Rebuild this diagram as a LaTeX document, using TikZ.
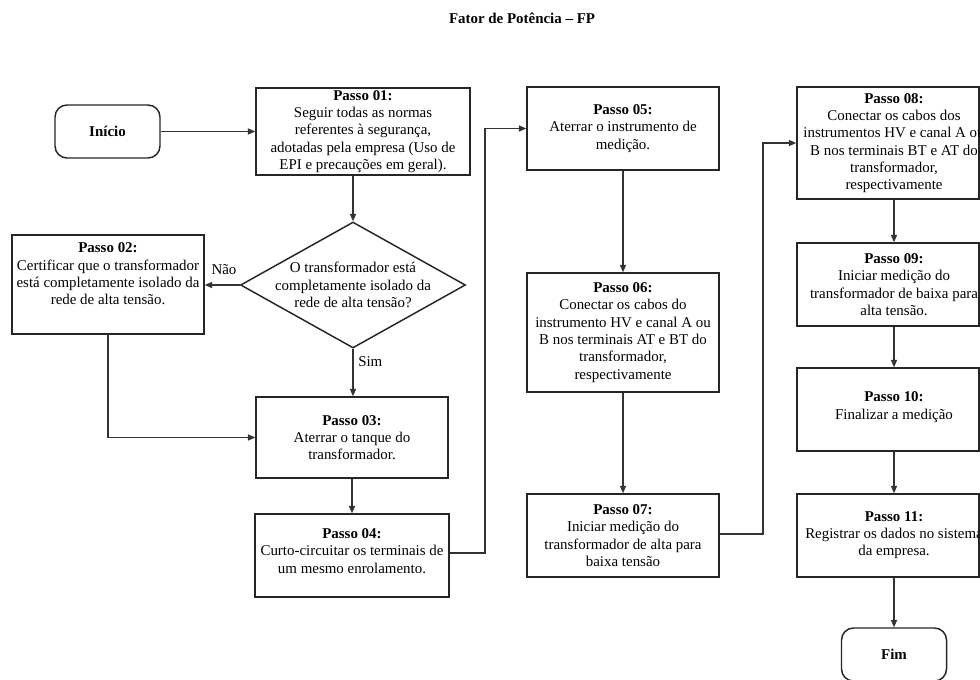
\documentclass[tikz,border=0pt]{standalone}
\usepackage{fontspec}
\setmainfont{Liberation Serif}
\usetikzlibrary{arrows.meta,shapes.geometric}
\tikzset{
  stepbox/.style={draw=black!85, line width=1.1pt, rectangle, align=center, inner sep=1pt,
    font=\fontsize{11.2pt}{13pt}\selectfont},
  termbox/.style={draw=black!85, line width=1.1pt, rectangle, rounded corners=9pt, align=center,
    font=\fontsize{11.2pt}{13pt}\selectfont\bfseries},
  decbox/.style={draw=black!85, line width=1.1pt, diamond, inner sep=0pt},
  txt/.style={align=center, inner sep=0pt, font=\fontsize{11.2pt}{13pt}\selectfont},
  arr/.style={draw=black!80, line width=1pt, -{Triangle[length=5.5pt,width=4.5pt]}}
}
\begin{document}
\begin{tikzpicture}[x=0.75pt,y=-0.75pt]
\useasboundingbox (0,0) rectangle (980,679);
\fill[white] (0,0) rectangle (980,679);
\clip (0,0) rectangle (980,679);

\node[txt, font=\fontsize{11.2pt}{13pt}\selectfont\bfseries] (title) at (522,18) {Fator de Potência – FP};

\node[termbox, minimum width=78.75pt, minimum height=39.75pt] (init) at (107.5,131.5) {Início};

\node[stepbox, minimum width=160.5pt, minimum height=65.25pt] (p01) at (363,131.5)
  {\textbf{Passo 01:}\\Seguir todas as normas\\referentes à segurança,\\adotadas pela empresa (Uso de\\EPI e precauções em geral).};

\node[decbox, minimum width=168.75pt, minimum height=94.5pt] (dia) at (353,285) {};
\node[txt] (diat) at (353,285) {O transformador está\\completamente isolado da\\rede de alta tensão?};

\node[stepbox, minimum width=144pt, minimum height=74.25pt] (p02) at (108,284.5) {};
\node[txt] (p02t) at (108,274)
  {\textbf{Passo 02:}\\Certificar que o transformador\\está completamente isolado da\\rede de alta tensão.};

\node[stepbox, minimum width=144pt, minimum height=60.75pt] (p03) at (352,437.5)
  {\textbf{Passo 03:}\\Aterrar o tanque do\\transformador.};

\node[stepbox, minimum width=145.5pt, minimum height=62.25pt] (p04) at (352,555.5) {};
\node[txt] (p04t) at (352,551)
  {\textbf{Passo 04:}\\Curto-circuitar os terminais de\\um mesmo enrolamento.};

\node[stepbox, minimum width=144pt, minimum height=62.25pt] (p05) at (623,128.5)
  {\textbf{Passo 05:}\\Aterrar o instrumento de\\medição.};

\node[stepbox, minimum width=144pt, minimum height=89.25pt] (p06) at (623,332.5)
  {\textbf{Passo 06:}\\Conectar os cabos do\\instrumento HV e canal A ou\\B nos terminais AT e BT do\\transformador,\\respectivamente};

\node[stepbox, minimum width=144pt, minimum height=62.25pt] (p07) at (623,535.5)
  {\textbf{Passo 07:}\\Iniciar medição do\\transformador de alta para\\baixa tensão};

\node[stepbox, minimum width=136.5pt, minimum height=84pt] (p08) at (888,143) {};
\node[txt] (p08t) at (894,143)
  {\textbf{Passo 08:}\\Conectar os cabos dos\\instrumentos HV e canal A ou\\B nos terminais BT e AT do\\transformador,\\respectivamente};

\node[stepbox, minimum width=136.5pt, minimum height=62.25pt] (p09) at (888,284.5) {};
\node[txt] (p09t) at (894,284.5)
  {\textbf{Passo 09:}\\Iniciar medição do\\transformador de baixa para\\alta tensão.};

\node[stepbox, minimum width=136.5pt, minimum height=62.25pt] (p10) at (888,409.5) {};
\node[txt] (p10t) at (894,407) {\textbf{Passo 10:}\\Finalizar a medição};

\node[stepbox, minimum width=136.5pt, minimum height=62.25pt] (p11) at (888,535.5) {};
\node[txt] (p11t) at (894,535) {\textbf{Passo 11:}\\Registrar os dados no sistema\\da empresa.};

\node[termbox, minimum width=78.75pt, minimum height=39.75pt] (fim) at (894,654.5) {Fim};

% connectors
\draw[arr] (init.east) -- (p01.west |- init.east);
\draw[arr] (dia.north |- p01.south) -- (dia.north);
\draw[arr] (dia.west) -- (p02.east |- dia.west);
\node[txt] (nao) at (224,270) {Não};
\draw[arr] (dia.south) -- (dia.south |- p03.north);
\node[txt, anchor=west] (sim) at (358,362) {Sim};
\draw[arr] (p02.south) |- (p03.west);
\draw[arr] (p03.south) -- (p04.north);
\coordinate (c1) at (485,553);
\draw[arr] (p04.east |- c1) -- (c1) |- (p05.west);
\draw[arr] (p05.south) -- (p06.north);
\draw[arr] (p06.south) -- (p07.north);
\coordinate (c2) at (763,534);
\draw[arr] (p07.east |- c2) -- (c2) |- (p08.west);
\draw[arr] (p08t |- p08.south) -- (p08t |- p09.north);
\draw[arr] (p09t |- p09.south) -- (p09t |- p10.north);
\draw[arr] (p10t |- p10.south) -- (p10t |- p11.north);
\draw[arr] (p11t |- p11.south) -- (p11t |- fim.north);
\end{tikzpicture}
\end{document}
